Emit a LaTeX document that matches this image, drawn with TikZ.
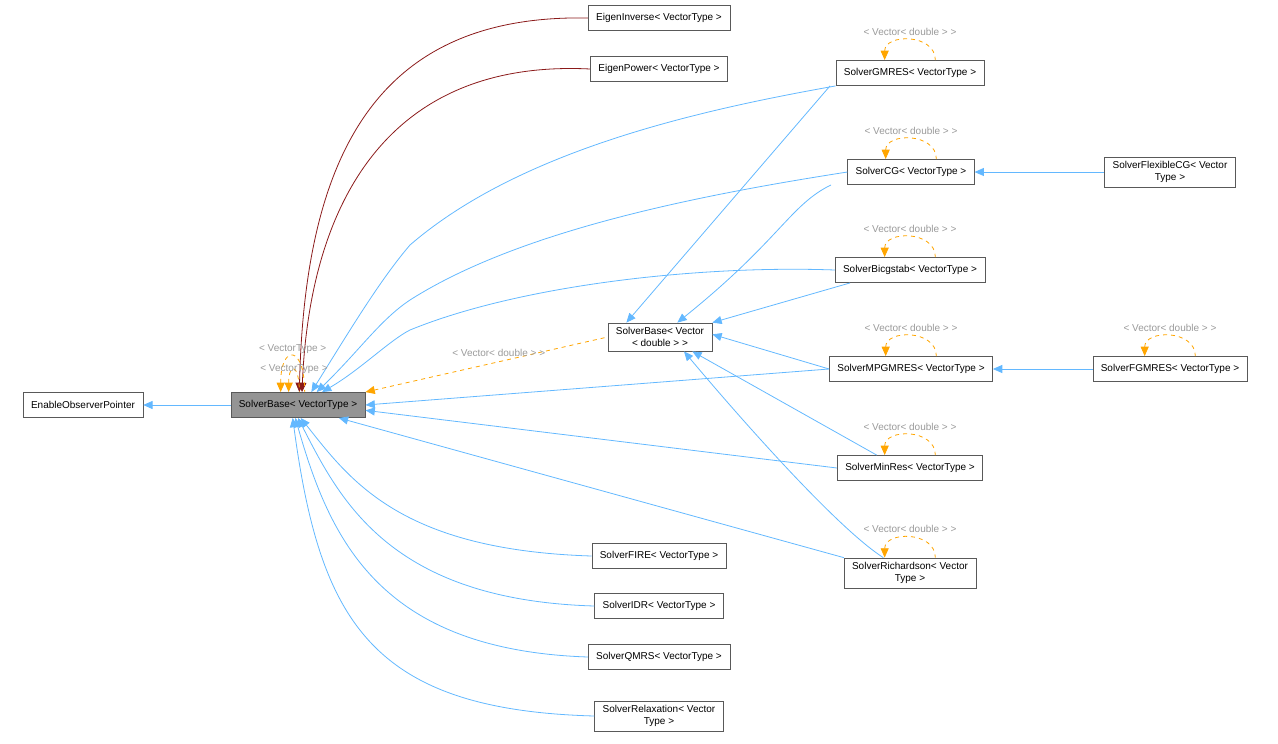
\documentclass[tikz,border=0pt]{standalone}
\usepackage{fontspec}
\setmainfont{Liberation Sans}
\usetikzlibrary{arrows.meta}
\usetikzlibrary{calc}
\definecolor{inh}{HTML}{63B8FF}
\definecolor{usage}{HTML}{8B1A1A}
\definecolor{tmpl}{HTML}{FFA500}
\definecolor{lblgray}{HTML}{9A9A9A}
\tikzset{
    every node/.style={font=\fontsize{7.5}{9}\selectfont},
    cls/.style={
        draw=black!65, fill=white,
        inner xsep=6pt, minimum height=19pt, align=center},
    base/.style={cls, fill=black!42},
    inh/.style={
        draw=inh, semithick,
        <-, >={Triangle[length=7pt,width=6pt]}},
    use/.style={inh, draw=usage, >={Triangle[length=7pt,width=6pt,fill=usage]}},
    tmpl/.style={
        draw=tmpl, dashed, semithick,
        <-, >={Triangle[length=7pt,width=6pt,fill=tmpl]}},
    lbl/.style={text=lblgray}}
\begin{document}
\begin{tikzpicture}[x=0.75pt, y=-0.75pt]
    \useasboundingbox (0,0) rectangle (1278,743);
    \node[cls] (eop) at (83,405) {EnableObserverPointer};
    \node[base] (sb) at (298,405) {SolverBase< VectorType >};
    \node[cls] (einv) at (659,18) {EigenInverse< VectorType >};
    \node[cls] (epow) at (659,69) {EigenPower< VectorType >};
    \node[cls] (gmres) at (910,73) {SolverGMRES< VectorType >};
    \node[cls] (cg) at (911,172) {SolverCG< VectorType >};
    \node[cls] (fcg) at (1170,172) {SolverFlexibleCG< Vector\\Type >};
    \node[cls] (bicg) at (910,270) {SolverBicgstab< VectorType >};
    \node[cls] (sbvd) at (660,337) {SolverBase< Vector\\< double > >};
    \node[cls] (mpg) at (911,369) {SolverMPGMRES< VectorType >};
    \node[cls] (fgm) at (1170,369) {SolverFGMRES< VectorType >};
    \node[cls] (minres) at (910,468) {SolverMinRes< VectorType >};
    \node[cls] (rich) at (910,573) {SolverRichardson< Vector\\Type >};
    \node[cls] (fire) at (659,556) {SolverFIRE< VectorType >};
    \node[cls] (idr) at (659,606) {SolverIDR< VectorType >};
    \node[cls] (qmrs) at (659,657) {SolverQMRS< VectorType >};
    \node[cls] (relax) at (659,716) {SolverRelaxation< Vector\\Type >};

    % inheritance
    \draw[inh] (eop) -- (sb);
    \draw[use] ([xshift=1pt]sb.north) .. controls (305,150) and (380,14) .. (einv.west);
    \draw[use] ([xshift=3pt]sb.north) .. controls (310,200) and (390,59) .. (epow.west);
    \draw[inh] ([xshift=10pt]sb.north) .. controls (350,330) and (380,280) .. (410,245) .. controls (520,150) and (700,110) .. (gmres.south west);
    \draw[inh] ([xshift=14pt]sb.north) .. controls (360,350) and (380,320) .. (410,300) .. controls (520,230) and (700,195) .. (cg.west);
    \draw[inh] ([xshift=18pt]sb.north) .. controls (360,370) and (390,340) .. (410,330) .. controls (520,285) and (700,265) .. (bicg.west);
    \draw[inh] (sb.east) -- (mpg.west);
    \draw[inh] ([yshift=-4pt]sb.east) -- (minres.west);
    \draw[inh] ([xshift=-20pt]sb.south east) -- (rich.north west);
    \draw[inh] ([xshift=2pt]sb.south) .. controls (350,480) and (400,550) .. (fire.west);
    \draw[inh] ([xshift=0pt]sb.south) .. controls (340,500) and (390,600) .. (idr.west);
    \draw[inh] ([xshift=-2pt]sb.south) .. controls (330,540) and (380,650) .. (qmrs.west);
    \draw[inh] ([xshift=-4pt]sb.south) .. controls (320,620) and (370,710) .. (relax.west);
    \draw[inh] ([xshift=18pt]sbvd.south) .. controls (750,430) and (840,530) .. ([xshift=-20pt]rich.north);
    \draw[inh] ([xshift=13pt]sbvd.north) .. controls (780,240) and (790,205) .. ([xshift=-60pt]cg.south);
    \draw[inh] ([xshift=14pt]sbvd.north west) -- ([xshift=-60pt]gmres.south);
    \draw[inh] (sbvd.north east) -- ([xshift=-45pt]bicg.south);
    \draw[inh] ([yshift=2pt]sbvd.east) -- (mpg.west);
    \draw[inh] ([xshift=-15pt]sbvd.south east) -- ([xshift=-25pt]minres.north);
    \draw[inh] (cg) -- (fcg);
    \draw[inh] (mpg) -- (fgm);

    % templates
    \draw[tmpl] (sb.north east) -- node[above, lbl, pos=0.55] {< Vector< double > >} (sbvd.west);
    \foreach \n in {gmres, cg, bicg, mpg, minres, rich, fgm}
        \draw[tmpl] ([xshift=-19pt]\n.north) .. controls +(0,20pt) and +(0,20pt) .. node[above, lbl] {< Vector< double > >} ([xshift=19pt]\n.north);
    \draw[tmpl] ([xshift=-13pt]sb.north) .. controls +(0,36pt) and +(0,36pt) .. node[above=-2pt, lbl] {< VectorType >} ([xshift=5pt]sb.north);
    \draw[tmpl] ([xshift=-7pt]sb.north) .. controls +(0,22pt) and +(0,22pt) .. node[above=-6pt, lbl] {< VectorType >} ([xshift=1pt]sb.north);
\end{tikzpicture}
\end{document}
